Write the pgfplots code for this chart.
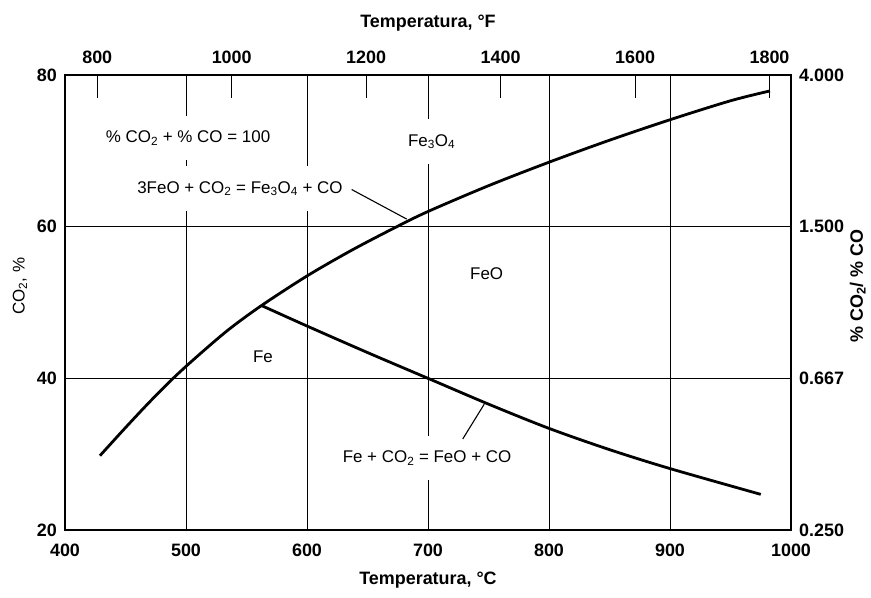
\documentclass[border=0pt]{standalone}
\usepackage{pgfplots}
\pgfplotsset{compat=1.18}
\usepackage{fontspec}
\setmainfont{Liberation Sans}

% Fe--C--O equilibrium: CO2 content of CO/CO2 gas versus temperature
\pgfplotstableread{
T     co2
428.9 29.8
450   33.5
470   36.9
490   40.1
510   43.0
535   46.4
562.4 49.6
600   53.5
637   56.9
673   59.9
700   62.0
750   65.4
800   68.5
850   71.4
900   74.1
950   76.6
982.6 77.9
}\magnetiteline

\pgfplotstableread{
T     co2
562.4 49.6
600   46.9
650   43.4
700   40.0
750   36.6
800   33.4
850   30.6
900   28.1
975   24.7
}\wustiteline

\newcommand{\ticksize}{\fontsize{18}{21}\selectfont\bfseries}
\newcommand{\notesize}{\fontsize{17}{20}\selectfont}

\begin{document}
\begin{tikzpicture}[font=\notesize]
% top (degrees F) and right (CO2/CO ratio) scales
\begin{axis}[
  scale only axis, width=726bp, height=455bp,
  xmin=752, xmax=1832, ymin=20, ymax=80,
  axis x line*=top, axis y line*=right,
  axis line style={line width=2.4bp, -},
  xtick={800,1000,...,1800},
  ytick={20,40,60,80},
  yticklabels={0.250,0.667,1.500,4.000},
  tick align=inside, major tick length=23bp,
  xtick style={black, line width=1bp},
  ytick style={draw=none},
  tick label style={font=\ticksize},
  /pgf/number format/assume math mode=true,
  /pgf/number format/1000 sep={},
  xticklabel style={anchor=center, yshift=18bp},
  yticklabel style={anchor=west, inner sep=0pt, xshift=8bp},
  xlabel={Temperatura, °F},
  xlabel style={font=\ticksize, at={(axis description cs:0.5,1.115)}, anchor=center},
  ylabel={\% CO\textsubscript{2}/ \% CO},
  ylabel style={font=\ticksize, at={(axis description cs:1.092,0.536)}, anchor=center},
]
\end{axis}

% main axes: degrees C and CO2 percentage
\begin{axis}[
  scale only axis, width=726bp, height=455bp,
  xmin=400, xmax=1000, ymin=20, ymax=80,
  xtick={400,500,...,1000}, ytick={20,40,60,80},
  grid=major, major grid style={black, line width=0.9bp},
  major tick length=0pt,
  axis line style={line width=2.4bp},
  tick label style={font=\ticksize},
  /pgf/number format/assume math mode=true,
  /pgf/number format/1000 sep={},
  xticklabel style={anchor=center, yshift=-20bp},
  yticklabel style={anchor=east, inner sep=0pt, xshift=-8bp},
  xlabel={Temperatura, °C},
  xlabel style={font=\ticksize, at={(axis description cs:0.5,-0.11)}, anchor=center},
  ylabel={CO\textsubscript{2}, \%},
  ylabel style={font=\notesize, at={(axis description cs:-0.062,0.536)}, anchor=center},
  clip=false,
]
\addplot[black, line width=2.8bp, smooth] table[x=T, y=co2] {\magnetiteline};
\addplot[black, line width=2.8bp, smooth] table[x=T, y=co2] {\wustiteline};

\tikzset{box/.style={fill=white, inner xsep=4bp, inner ysep=15bp}}
\node[box] at (axis cs:501.7,71.7) {\% CO\textsubscript{2} + \% CO = 100};
\node[box] at (axis cs:703,71.2) {Fe\textsubscript{3}O\textsubscript{4}};
\node[box] at (axis cs:544.6,65.0) {3FeO + CO\textsubscript{2} = Fe\textsubscript{3}O\textsubscript{4} + CO};
\node at (axis cs:748.5,53.85) {FeO};
\node at (axis cs:563.6,42.9) {Fe};
\node[box] at (axis cs:699.2,29.5) {Fe + CO\textsubscript{2} = FeO + CO};

\draw[black, line width=1.1bp] (axis cs:636.9,64.9) -- (axis cs:682.4,61.0);
\draw[black, line width=1.1bp] (axis cs:728.7,32.0) -- (axis cs:746.5,36.6);

\coordinate (sw) at (rel axis cs:0,0);
\coordinate (ne) at (rel axis cs:1,1);
\end{axis}

\pgfresetboundingbox
\path[use as bounding box] ([xshift=-65bp,yshift=-67bp]sw) rectangle ([xshift=80bp,yshift=75bp]ne);
\end{tikzpicture}
\end{document}
